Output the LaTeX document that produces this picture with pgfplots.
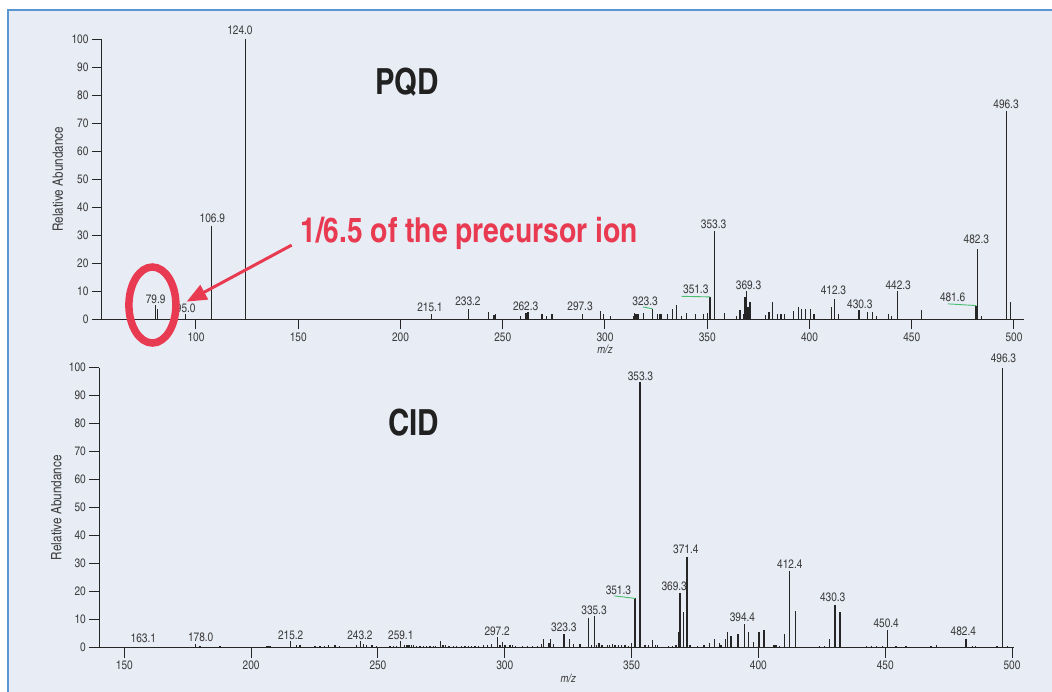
\documentclass[border=0pt]{standalone}
\usepackage{pgfplots}
\pgfplotsset{compat=1.18}
\usetikzlibrary{arrows.meta}
\usepackage{fontspec}
\setmainfont{texgyreheroscn}[Extension=.otf, UprightFont=*-regular, BoldFont=*-bold, ItalicFont=*-italic, BoldItalicFont=*-bolditalic]
\definecolor{bg}{RGB}{232,236,245}
\definecolor{frame}{RGB}{90,150,210}
\definecolor{peak}{RGB}{38,38,38}
\definecolor{lbl}{RGB}{60,60,60}
\definecolor{redc}{RGB}{232,58,80}
\definecolor{grn}{RGB}{70,190,110}
\newcommand\tl{\fontsize{12.3}{14}\selectfont}
\newcommand\pl{\fontsize{12.3}{14}\selectfont}
\pgfplotsset{
  msstyle/.style={
    scale only axis, clip=false,
    ymin=0, ymax=100,
    axis x line*=bottom, axis y line*=left,
    axis line style={-, line width=1.2pt, draw=peak},
    tick align=outside, major tick length=10pt,
    tick style={line width=1pt, draw=peak},
    minor tick num=0,
    ytick={0,10,...,100},
    tick label style={font=\tl, text=lbl},
    /pgf/number format/assume math mode=true,
    /pgf/number format/1000 sep={},
  },
  pk/.style={ycomb, line width=1.3pt, draw=peak, mark=none},
}
\tikzset{lb/.style={font=\pl, text=lbl, anchor=base, inner sep=0pt}}
\begin{document}
\begin{tikzpicture}
\useasboundingbox (0,0) rectangle (1052pt,692pt);
\fill[white] (0,0) rectangle (1052pt,692pt);
\fill[bg] (8pt,0) rectangle (1052pt,682pt);
\draw[frame, line width=1.2pt] (8pt,0) -- (8pt,682pt) -- (1052pt,682pt);

% ---------------- PQD ----------------
\begin{axis}[msstyle, at={(101.9pt,372.7pt)}, anchor=south west,
  width=922.3pt, height=280pt, xmin=54, xmax=505,
  xtick={100,150,...,500}]
\addplot[pk] coordinates {
(80.2,5.0) (81.2,3.6) (95.0,1.8) (107.5,33.3) (124.2,100)
(215.2,2.0) (233.1,3.7) (243.1,2.5) (245.7,1.4) (246.5,1.9)
(258.8,1.3) (261.4,2.1) (262.3,2.5) (269.2,1.8) (271.5,1.3) (274.1,1.8)
(288.9,1.8) (297.8,3.0) (299.4,1.8) (302.8,1.3)
(313.9,1.3) (314.5,2.3) (315.2,2.0) (316.2,2.0) (319.0,2.4) (323.2,3.7)
(325.6,2.0) (326.5,2.0) (327.4,2.0) (330.6,2.0) (333.0,3.8) (335.0,5.0)
(337.4,1.3) (340.0,2.1) (344.3,1.9) (348.3,1.9) (350.0,2.1) (351.4,8.1)
(353.6,31.4) (358.3,2.4) (364.3,1.3) (366.0,3.2) (367.6,1.9) (368.4,8.0)
(369.3,10.0) (370.0,4.3) (370.9,6.2) (378.6,1.5) (380.2,2.5) (382.0,6.2)
(384.4,2.0) (386.1,2.0) (387.9,2.0) (392.1,3.1) (394.5,4.4) (396.2,3.5)
(398.1,3.8) (400.4,3.8) (402.2,2.0) (410.8,4.5) (412.4,7.4) (414.2,2.0)
(424.2,3.2) (428.4,2.5) (430.9,2.5) (432.7,1.3) (438.7,2.0) (440.2,1.3)
(442.9,10.0) (454.7,3.3) (481.4,4.8) (482.2,25.2) (484.0,1.3)
(496.2,74.4) (498.4,6.3)
};
\node[lb] at (axis cs:80.3,5.7) {79.9};
\node[lb] at (axis cs:95.0,2.5) {95.0};
\node[lb] at (axis cs:108.0,34.5) {106.9};
\node[lb] at (axis cs:121.5,101.8) {124.0};
\node[lb] at (axis cs:214.4,2.7) {215.1};
\node[lb] at (axis cs:233.0,4.75) {233.2};
\node[lb] at (axis cs:261.2,3.3) {262.3};
\node[lb] at (axis cs:287.8,3.3) {297.3};
\node[lb] at (axis cs:319.6,4.9) {323.3};
\node[lb] at (axis cs:344.4,9.3) {351.3};
\node[lb] at (axis cs:353.1,32.25) {353.3};
\node[lb] at (axis cs:370.2,10.8) {369.3};
\node[lb] at (axis cs:411.7,8.7) {412.3};
\node[lb] at (axis cs:424.6,3.9) {430.3};
\node[lb] at (axis cs:443.4,10.8) {442.3};
\node[lb] at (axis cs:470.0,6.3) {481.6};
\node[lb] at (axis cs:481.6,26.9) {482.3};
\node[lb] at (axis cs:496.1,75.4) {496.3};
\draw[grn, line width=0.9pt] (axis cs:318.6,4.4) -- (axis cs:323.2,3.75);
\draw[grn, line width=0.9pt] (axis cs:337.5,8.2) -- (axis cs:351.4,8.0);
\draw[grn, line width=0.9pt] (axis cs:467.8,5.5) -- (axis cs:481.6,4.9);
\node[font=\fontsize{11.5}{12}\selectfont\itshape, text=lbl] at (axis cs:300,-10.7) {m/z};
\node[rotate=90, font=\fontsize{14.3}{16}\selectfont, text=lbl] at ([xshift=-44pt]rel axis cs:0,0.5) {Relative Abundance};
\node[font=\fontsize{36}{40}\selectfont\bfseries, text=black!87] at (axis cs:203.2,84.75) {PQD};
\node[font=\fontsize{34.4}{38}\selectfont\bfseries, text=redc, anchor=base] at (axis cs:233.5,27.25) {1/6.5 of the precursor ion};
\draw[redc, line width=3pt, -{Triangle[length=20pt,width=16pt]}] (axis cs:146.8,26.5) -- (axis cs:95.45,6.3);
\draw[redc, line width=7.5pt] (axis cs:78.7,5.1) ellipse [x radius=23.5pt, y radius=38pt];
\end{axis}

% ---------------- CID ----------------
\begin{axis}[msstyle, at={(99.3pt,44.3pt)}, anchor=south west,
  width=915pt, height=280pt, xmin=140.14, xmax=500.9,
  xtick={150,200,...,500}]
\addplot[pk] coordinates {
(163.1,0.4) (178.1,1.2) (179.9,0.6) (187.7,0.6)
(206.2,0.7) (206.9,0.7) (207.5,0.7) (215.6,2.5) (218.0,0.9) (219.3,0.8)
(225.2,0.7) (227.2,0.7) (228.8,0.7) (230.4,0.8) (233.1,1.0) (234.8,0.7)
(241.6,0.8) (243.2,2.4) (244.3,1.2) (245.6,1.0) (247.6,0.8) (249.3,0.7)
(254.8,0.7) (256.1,0.7) (257.4,0.7)
(259.0,2.5) (260.4,0.8) (261.4,1.0) (262.3,1.0) (263.1,0.8) (264.0,0.8)
(265.3,0.7) (266.6,0.7) (267.9,0.7) (269.2,0.7) (270.5,0.7) (271.8,0.7)
(272.8,0.7) (274.6,2.5) (275.6,0.8) (276.5,0.8) (278.0,0.7) (279.7,0.7)
(281.1,0.7) (283.0,0.7) (284.3,0.7) (285.6,0.7) (287.0,0.7) (288.3,0.7)
(289.6,0.7) (291.6,0.8) (293.3,0.8) (294.9,1.3) (297.1,3.9) (298.1,0.8)
(299.1,1.9) (300.1,0.8) (302.1,1.0) (303.0,0.8) (304.1,0.7) (307.1,0.7)
(309.1,0.7) (311.0,0.7) (313.0,0.7) (314.6,1.3) (315.2,3.2) (317.5,1.5)
(318.0,3.2) (319.3,1.3) (323.4,5.0) (325.5,3.2) (327.0,1.3) (329.7,1.3)
(333.0,10.7) (334.3,0.8) (335.3,11.2) (336.3,0.8) (337.1,1.5) (338.3,0.8)
(340.5,1.0) (341.3,1.0) (342.6,1.3) (343.5,1.0) (344.8,1.0) (346.1,0.8)
(347.4,1.0) (348.7,0.7) (350.1,1.5) (351.4,17.6) (353.3,94.8)
(355.3,1.0) (356.6,1.0) (358.2,2.6) (359.3,1.0) (360.2,1.0)
(364.5,0.7) (366.2,0.7) (367.5,1.0) (368.5,5.6) (369.1,19.6) (370.4,12.9)
(371.9,32.5) (372.7,1.0) (373.3,1.0) (376.0,0.7) (378.6,0.9) (380.6,1.6)
(382.7,3.2) (384.6,1.8) (385.3,0.8) (387.1,3.0) (387.8,5.5) (389.2,4.3)
(391.9,4.9) (394.4,8.6) (396.2,5.5) (398.2,1.9) (400.2,5.5) (402.2,6.2)
(406.2,1.1) (406.9,1.1) (408.3,0.7) (410.3,4.9) (412.4,27.5) (414.5,13.0)
(424.0,0.7) (426.0,0.7) (428.1,3.2) (430.2,15.2) (432.2,12.9)
(442.5,0.7) (444.6,0.7) (446.7,0.7) (448.8,0.7) (450.8,6.2)
(454.2,0.7) (458.2,0.7) (468.1,0.7) (470.2,1.0) (481.8,3.2)
(484.5,0.7) (485.7,0.7) (494.1,0.7) (496.2,100) (498.2,0.7)
};
\node[lb] at (axis cs:157.5,1.7) {163.1};
\node[lb] at (axis cs:180.1,2.3) {178.0};
\node[lb] at (axis cs:215.6,3.1) {215.2};
\node[lb] at (axis cs:242.9,3.1) {243.2};
\node[lb] at (axis cs:259.0,2.75) {259.1};
\node[lb] at (axis cs:297.0,4.3) {297.2};
\node[lb] at (axis cs:323.3,5.7) {323.3};
\node[lb] at (axis cs:335.2,11.7) {335.3};
\node[lb] at (axis cs:344.8,18.9) {351.3};
\node[lb] at (axis cs:353.5,95.6) {353.3};
\node[lb] at (axis cs:366.8,20.4) {369.3};
\node[lb] at (axis cs:371.4,33.5) {371.4};
\node[lb] at (axis cs:393.7,9.3) {394.4};
\node[lb] at (axis cs:412.4,28.4) {412.4};
\node[lb] at (axis cs:429.3,16.4) {430.3};
\node[lb] at (axis cs:450.4,7.3) {450.4};
\node[lb] at (axis cs:480.8,4.3) {482.4};
\node[lb] at (axis cs:496.6,101.9) {496.3};
\draw[grn, line width=0.9pt] (axis cs:343.2,18.5) -- (axis cs:351.4,17.6);
\node[font=\fontsize{11.5}{12}\selectfont\itshape, text=lbl] at (axis cs:325,-10.8) {m/z};
\node[rotate=90, font=\fontsize{14.3}{16}\selectfont, text=lbl] at ([xshift=-43pt]rel axis cs:0,0.5) {Relative Abundance};
\node[font=\fontsize{36}{40}\selectfont\bfseries, text=black!87] at (axis cs:264.0,80.4) {CID};
\end{axis}
\end{tikzpicture}
\end{document}
